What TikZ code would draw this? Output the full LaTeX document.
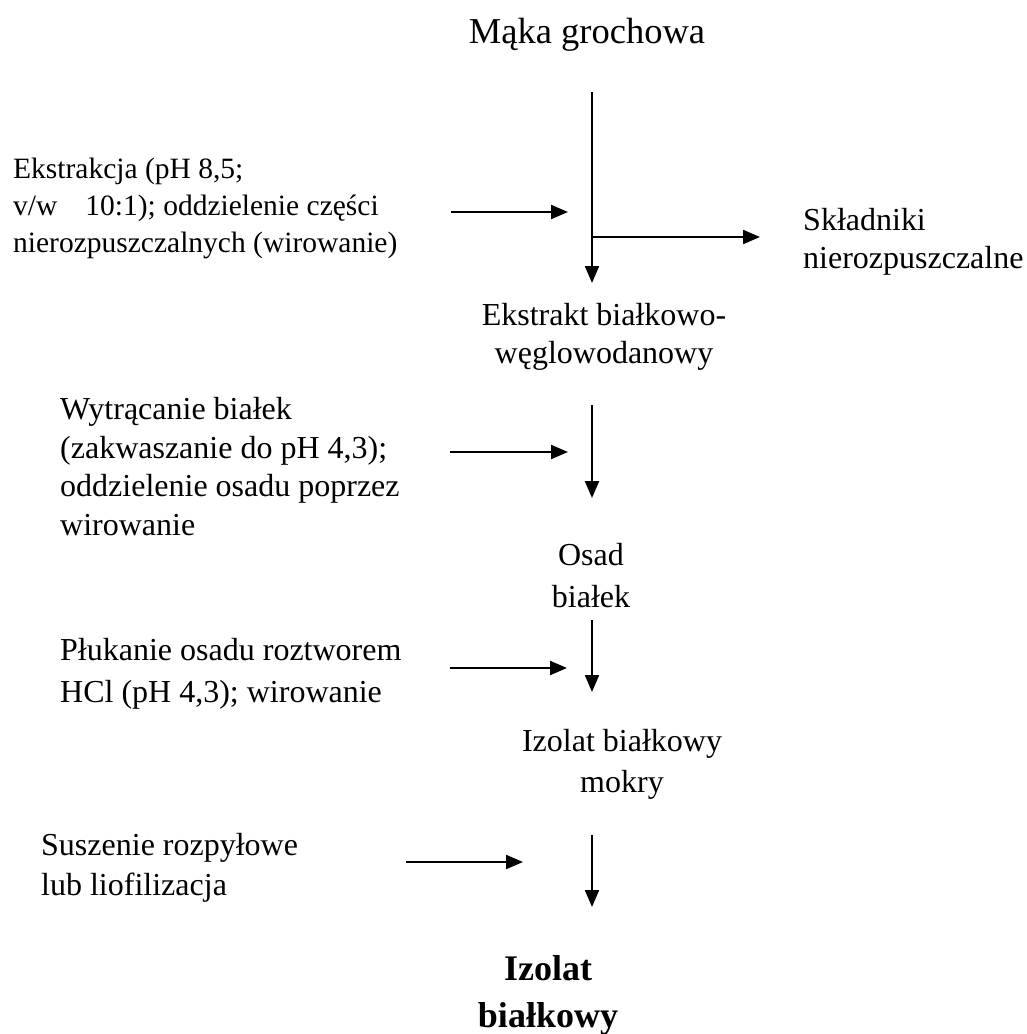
\documentclass[tikz,border=0pt]{standalone}
\usepackage{fontspec}
\setmainfont{Liberation Serif}
\usetikzlibrary{arrows.meta}

\tikzset{
  flow/.style={-{Triangle[length=17pt,width=14pt]},line width=2.2pt},
  stage/.style={inner sep=0pt,align=center,font=\fontsize{32}{38}\selectfont},
  stepnote/.style={inner sep=0pt,align=left,font=\fontsize{32}{39}\selectfont}
}

\begin{document}
\begin{tikzpicture}[x=1pt,y=-1pt]
\useasboundingbox (0,0) rectangle (1027,1034);

% Main line of the process
\coordinate (spine) at (592,0);
\node[stage,anchor=base,font=\fontsize{36.5}{44}\selectfont] (maka) at (587,43) {Mąka grochowa};
\node[stage,anchor=base] (ekstrakt) at (604,363) {Ekstrakt białkowo-\\węglowodanowy};
\node[stage,anchor=base,font=\fontsize{32}{42}\selectfont] (osad) at (591,607) {Osad\\białek};
\node[stage,anchor=base,font=\fontsize{32}{41}\selectfont] (mokry) at (622,792) {Izolat białkowy\\mokry};
\node[stage,anchor=base,font=\fontsize{36}{47}\selectfont\bfseries] (izolat) at (548,1027) {Izolat\\białkowy};

\draw[flow,shorten <=49pt,shorten >=80pt] (spine |- maka.base) -- (spine |- ekstrakt.base);
\draw[flow,shorten <=42pt,shorten >=109pt] (spine |- ekstrakt.base) -- (spine |- osad.base);
\draw[flow,shorten <=13pt,shorten >=100pt] (spine |- osad.base) -- (spine |- mokry.base);
\draw[flow,shorten <=43pt,shorten >=120pt] (spine |- mokry.base) -- (spine |- izolat.base);

% Side stream
\coordinate (split) at (592,237);
\node[stepnote,anchor=base west,font=\fontsize{32}{38}\selectfont] (skladniki) at (803,268) {Składniki\\nierozpuszczalne};
\draw[flow,shorten >=43pt] (split) -- (skladniki.west |- split);

% Process steps
\coordinate (j1) at (592,212);
\coordinate (j2) at (592,452);
\coordinate (j3) at (592,668);
\coordinate (j4) at (592,862);

\node[stepnote,anchor=base west,font=\fontsize{29.5}{37}\selectfont] (ekstr) at (13,252)
  {Ekstrakcja (pH 8,5;\\v/w\hspace{0.95em}10:1); oddzielenie części\\nierozpuszczalnych (wirowanie)};
\draw[flow,shorten <=53pt,shorten >=24pt] (ekstr.east |- j1) -- (j1);

\node[stepnote,anchor=base west,font=\fontsize{32}{38.5}\selectfont] (wytr) at (60,535)
  {Wytrącanie białek\\(zakwaszanie do pH 4,3);\\oddzielenie osadu poprzez\\wirowanie};
\draw[flow,shorten <=50pt,shorten >=24pt] (wytr.east |- j2) -- (j2);

\node[stepnote,anchor=base west,font=\fontsize{32}{42}\selectfont] (plukanie) at (60,702)
  {Płukanie osadu roztworem\\HCl (pH 4,3); wirowanie};
\draw[flow,shorten <=48pt,shorten >=25pt] (plukanie.east |- j3) -- (j3);

\node[stepnote,anchor=base west,font=\fontsize{32}{40}\selectfont] (suszenie) at (41,895)
  {Suszenie rozpyłowe\\lub liofilizacja};
\draw[flow,shorten <=108pt,shorten >=69pt] (suszenie.east |- j4) -- (j4);
\end{tikzpicture}
\end{document}
